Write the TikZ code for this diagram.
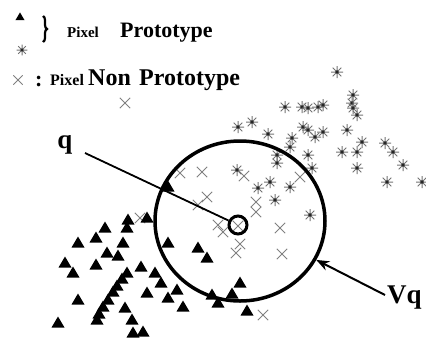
\documentclass[tikz,border=0pt]{standalone}
\usepackage{fontspec}
\setmainfont{Liberation Serif}
\usetikzlibrary{shapes.geometric,arrows.meta,decorations.pathreplacing}

\tikzset{
  tri/.pic={\fill[black] (-6.5,4.5) -- (6.5,4.5) -- (0,-6.5) -- cycle;},
  ast/.pic={
    \draw[black!55, line width=1pt] (-6,0)--(6,0) (0,-6)--(0,6)
      (-4.3,-4.3)--(4.3,4.3) (-4.3,4.3)--(4.3,-4.3);
    \fill[black!85] (0,0) circle (1.8);},
  crs/.pic={\draw[black!50, line width=0.9pt] (-5.2,-5.2)--(5.2,5.2) (-5.2,5.2)--(5.2,-5.2);},
  lab/.style={font=\bfseries, inner sep=0pt, anchor=base west},
  small/.style={font=\bfseries\fontsize{15}{17}\selectfont},
  big/.style={font=\bfseries\fontsize{22}{24}\selectfont},
  bigger/.style={font=\bfseries\fontsize{24}{26}\selectfont},
}

\begin{document}
\begin{tikzpicture}[x=1pt,y=-1pt]
\useasboundingbox (0,0) rectangle (426,349);

% legend
\pic[scale=0.7] at (20,17) {tri};
\draw[line width=2.2pt, decorate, decoration={brace, amplitude=4pt}] (43,16) -- (43,42);
\pic[scale=0.9] at (22,50) {ast};
\node[lab, small] (p1) at (67,37) {Pixel};
\node[lab, big] (pr1) at (120,37) {Prototype};
\pic[scale=0.9] at (18,80) {crs};
\node[lab, big] (col) at (35,86) {:};
\node[lab, font=\bfseries\fontsize{16}{18}\selectfont] (p2) at (50,85) {Pixel};
\node[lab, bigger] (n2) at (88,85) {Non};
\node[lab, bigger] (pr2) at (139,85) {Prototype};

% non-prototype pixels
\foreach \x/\y in {125/103,140/218,180/173,202/172,207/197,198/205,218/225,223/232,
  238/226,244/176,256/202,256/212,240/244,236/253,280/228,282/254,300/177,263/315}
  \pic at (\x,\y) {crs};

% prototype pixels, first class
\foreach \x/\y in {337/72,353/95,352/103,353/108,357/115,285/107,302/107,308/108,
  318/107,323/105,252/122,238/127,268/134,303/127,308/130,323/132,315/137,347/130,
  292/138,290/147,277/155,277/163,308/155,312/168,362/142,357/152,342/152,357/168,
  385/143,393/152,403/165,387/182,422/182,237/170,270/182,258/188,290/187,275/200,310/215}
  \pic at (\x,\y) {ast};

% prototype pixels, second class
\foreach \x/\y in {168/187,128/220,127/228,147/218,105/228,96/238,78/243,123/243,
  107/253,118/256,96/265,65/263,73/273,141/267,127/273,155/273,168/243,198/248,
  207/258,161/283,122/279,117/286,113/292,147/293,168/298,177/290,108/300,78/300,
  103/307,125/308,99/314,97/320,132/320,143/332,133/333,183/307,58/323,212/295,
  218/303,232/294,240/283,247/311}
  \pic at (\x,\y) {tri};

% neighbourhood Vq and query pixel q
\node[draw, ellipse, line width=3.5pt, minimum width=170pt, minimum height=160pt, inner sep=0pt] (vq) at (240,221) {};
\node[draw, circle, line width=3pt, minimum size=18pt, inner sep=0pt] (qc) at (238,225) {};

\node[lab, font=\bfseries\fontsize{27}{30}\selectfont, anchor=base] (qlab) at (65,148) {q};
\coordinate (qs) at (85,153);
\draw[line width=1.8pt] (qs) -- (qc);

\node[lab, font=\bfseries\fontsize{27}{30}\selectfont] (vqlab) at (387,303) {Vq};
\coordinate (vs) at (385,295);
\draw[line width=2pt, -{Stealth[length=13pt, width=10pt]}] (vs) -- (vq);
\end{tikzpicture}
\end{document}
